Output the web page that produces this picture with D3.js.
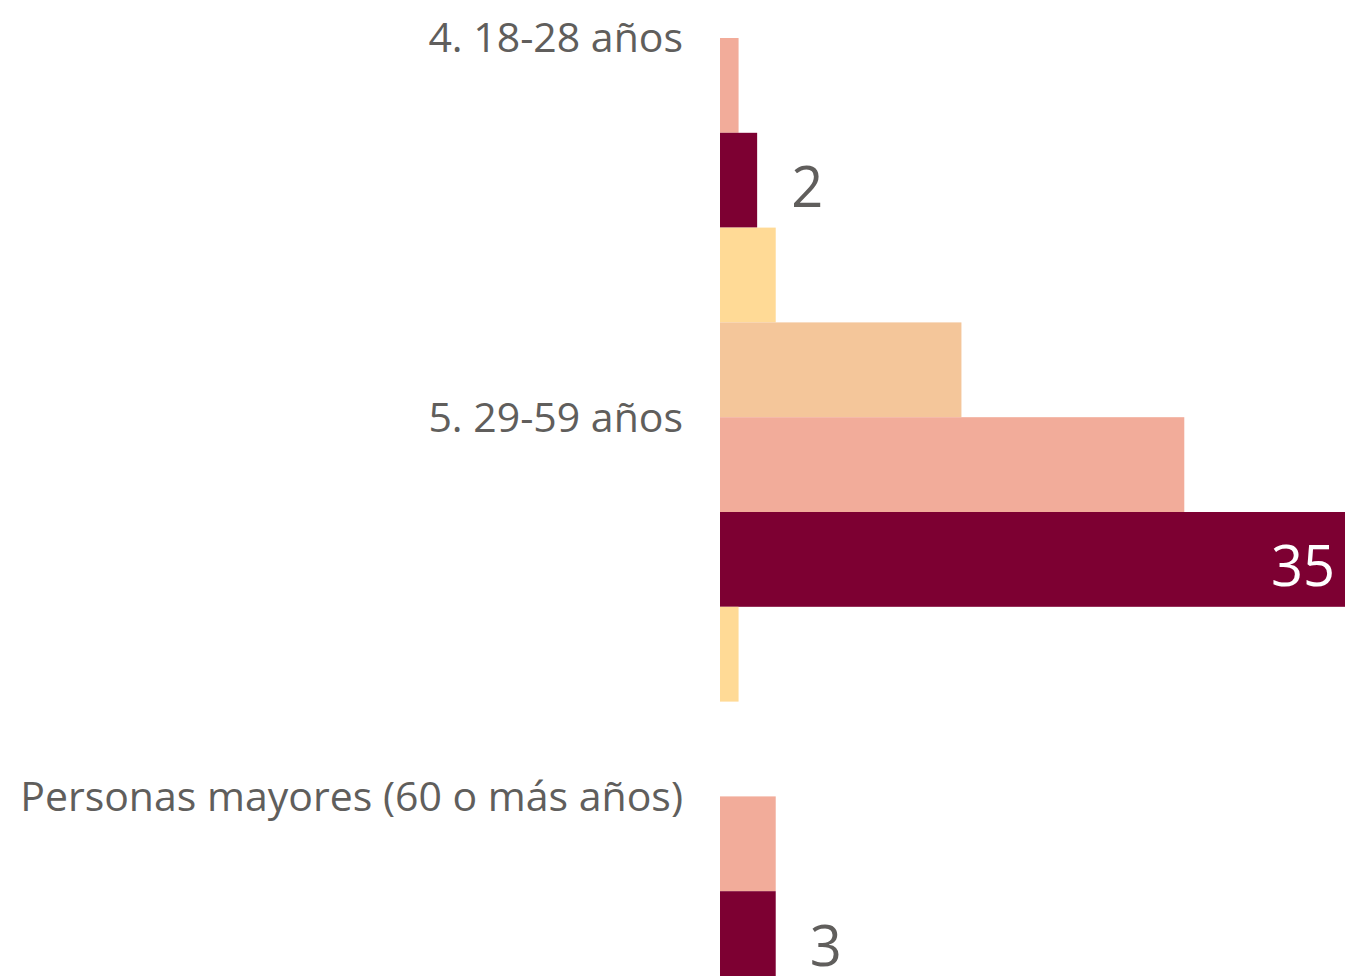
<!DOCTYPE html>
<html>
<head>
<meta charset="utf-8">
<style>
  body { margin: 0; background: #fff; }
  svg { display: block; }
</style>
</head>
<body>
<svg id="chart" width="1345" height="976"></svg>
<script src="https://d3js.org/d3.v7.min.js"></script>
<script>

// categories and series
var categorias = ["4. 18-28 años", "5. 29-59 años", "Personas mayores (60 o más años)"];
var series = ["serie1", "serie2", "serie3", "serie4"];
var serie1 = [0, 13, 0];   // peach
var serie2 = [1, 25, 3];   // salmon
var serie3 = [2, 35, 3];   // maroon, the one with data labels
var serie4 = [3, 1, 0];    // yellow (last group is below the visible area)
var colores = ["#F4C69A", "#F2AC9A", "#7D0032", "#FFDA96"];

var valores = [serie1, serie2, serie3, serie4];

var svg = d3.select("svg#chart"),
    width = +svg.attr("width"),
    height = +svg.attr("height");

var x0 = 720;
var x = d3.scaleLinear()
    .domain([0, 35])
    .range([x0, x0 + 650]);

// band per category, the view is scrolled so the first band starts above the top
var step = 379.2;
var y0 = d3.scaleBand()
    .domain(categorias)
    .range([-56.8, -56.8 + step * categorias.length])
    .padding(0);

var y1 = d3.scaleBand()
    .domain(series)
    .range([0, y0.bandwidth()])
    .padding(0);

svg.append("defs").append("clipPath")
    .attr("id", "clip")
  .append("rect")
    .attr("x", 0).attr("y", 0)
    .attr("width", width).attr("height", height);

var g = svg.append("g").attr("clip-path", "url(#clip)");

var rows = categorias.map(function(c, i) {
  return {
    cat: c,
    bars: series.map(function(s, j) {
      return { serie: s, j: j, value: valores[j][i] };
    })
  };
});

var grupo = g.selectAll("g.cat")
  .data(rows)
  .enter().append("g")
    .attr("class", "cat")
    .attr("transform", function(d) { return "translate(0," + y0(d.cat) + ")"; });

grupo.selectAll("rect")
  .data(function(d) { return d.bars.filter(function(b) { return b.value > 0; }); })
  .enter().append("rect")
    .attr("x", x(0))
    .attr("y", function(d) { return y1(d.serie); })
    .attr("width", function(d) { return x(d.value) - x(0); })
    .attr("height", y1.bandwidth())
    .attr("fill", function(d) { return colores[d.j]; });

// category labels
svg.append("g").selectAll("text")
  .data(categorias)
  .enter().append("text")
    .attr("x", 683)
    .attr("y", function(d) { return y0(d) + y1.bandwidth(); })
    .attr("dy", "0.35em")
    .attr("text-anchor", "end")
    .attr("font-family", "'Segoe UI', 'Open Sans', sans-serif")
    .attr("font-size", 41)
    .attr("fill", "#605E5C")
    .text(function(d) { return d; });

// data labels for the maroon series only
var labels = rows.map(function(r) { return { cat: r.cat, value: r.bars[2].value }; });

svg.append("g").selectAll("text")
  .data(labels)
  .enter().append("text")
    .each(function(d) {
      var end = x(d.value);
      var t = d3.select(this);
      if (end > width - 40) {
        // clamp inside the visible bar end
        t.attr("x", Math.min(end, width) - 10)
         .attr("text-anchor", "end")
         .attr("fill", "#fff");
      } else {
        t.attr("x", end + 34)
         .attr("text-anchor", "start")
         .attr("fill", "#605E5C");
      }
    })
    .attr("y", function(d) { return y0(d.cat) + y1("serie3") + y1.bandwidth() / 2; })
    .attr("dy", 27)
    .attr("font-family", "'Segoe UI', 'Open Sans', sans-serif")
    .attr("font-size", 56)
    .text(function(d) { return d.value; });

</script>
</body>
</html>
